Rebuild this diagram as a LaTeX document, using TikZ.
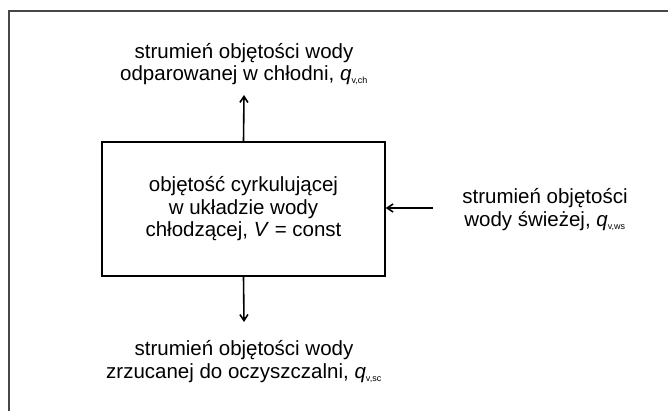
\documentclass[tikz,border=0pt]{standalone}
\usepackage{fontspec}
\setmainfont{Liberation Sans}
\usetikzlibrary{arrows.meta}
\begin{document}
\begin{tikzpicture}[x=1pt,y=-1pt,
  lbl/.style={align=center,font=\fontsize{20.5}{22.5}\selectfont,inner sep=0pt},
  flow/.style={line width=1.6pt,-{Straight Barb[length=6pt,width=8pt]}},
  frame/.style={draw=black!72,line width=2pt}]
\useasboundingbox (0,0) rectangle (668,411);
\draw[frame] (9,420) -- (9,11) -- (680,11);
\node[draw,line width=1.3pt,minimum width=283pt,minimum height=134pt,inner sep=0pt] (box) at (243.5,209) {};
\node[lbl] (boxt) at (box.center) {objętość cyrkulującej\\w układzie wody\\chłodzącej, \textit{V} = const};
\node[lbl] (top) at (244,64) {strumień objętości wody\\odparowanej w chłodni, \textit{q}\textsubscript{\fontsize{9}{9}\selectfont v,ch}};
\node[lbl] (bot) at (244,361.5) {strumień objętości wody\\zrzucanej do oczyszczalni, \textit{q}\textsubscript{\fontsize{9}{9}\selectfont v,sc}};
\node[lbl] (right) at (545,209.5) {strumień objętości\\wody świeżej, \textit{q}\textsubscript{\fontsize{9}{9}\selectfont v,ws}};
\coordinate (topend) at (244,95);
\coordinate (botend) at (244,322);
\coordinate (rstart) at (433,208);
\draw[flow] (box.north) -- (topend);
\draw[flow] (box.south) -- (botend);
\draw[flow] (rstart) -- (box.east |- rstart);
\end{tikzpicture}
\end{document}
